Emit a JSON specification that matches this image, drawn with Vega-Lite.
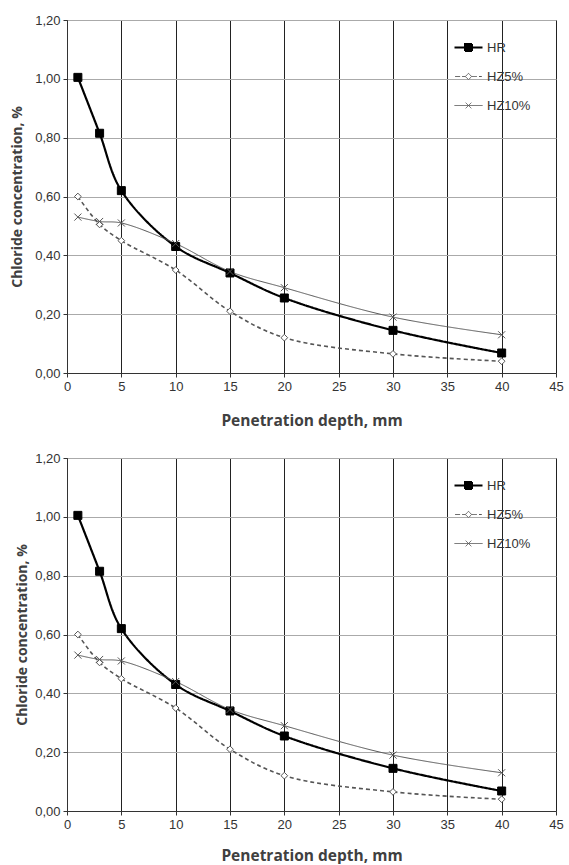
{
  "$schema": "https://vega.github.io/schema/vega-lite/v6.json",
  "padding": {"left": 10, "top": 13, "right": 0, "bottom": 0},
  "background": "white",
  "spacing": 22,
  "align": "none",
  "resolve": {"scale": {"stroke": "independent"}, "legend": {"stroke": "independent"}},
  "data": {"values": [
    {"depth": 1, "conc": 1.005, "series": "HR"},
    {"depth": 3, "conc": 0.815, "series": "HR"},
    {"depth": 5, "conc": 0.62, "series": "HR"},
    {"depth": 10, "conc": 0.43, "series": "HR"},
    {"depth": 15, "conc": 0.34, "series": "HR"},
    {"depth": 20, "conc": 0.255, "series": "HR"},
    {"depth": 30, "conc": 0.145, "series": "HR"},
    {"depth": 40, "conc": 0.068, "series": "HR"},
    {"depth": 1, "conc": 0.60, "series": "HZ5%"},
    {"depth": 3, "conc": 0.505, "series": "HZ5%"},
    {"depth": 5, "conc": 0.45, "series": "HZ5%"},
    {"depth": 10, "conc": 0.35, "series": "HZ5%"},
    {"depth": 15, "conc": 0.21, "series": "HZ5%"},
    {"depth": 20, "conc": 0.12, "series": "HZ5%"},
    {"depth": 30, "conc": 0.065, "series": "HZ5%"},
    {"depth": 40, "conc": 0.04, "series": "HZ5%"},
    {"depth": 1, "conc": 0.53, "series": "HZ10%"},
    {"depth": 3, "conc": 0.515, "series": "HZ10%"},
    {"depth": 5, "conc": 0.51, "series": "HZ10%"},
    {"depth": 10, "conc": 0.44, "series": "HZ10%"},
    {"depth": 15, "conc": 0.345, "series": "HZ10%"},
    {"depth": 20, "conc": 0.29, "series": "HZ10%"},
    {"depth": 30, "conc": 0.19, "series": "HZ10%"},
    {"depth": 40, "conc": 0.13, "series": "HZ10%"}
  ]},
  "config": {
    "view": {"stroke": "#555", "strokeWidth": 1},
    "axis": {
      "labelFont": "Liberation Sans Narrow, Liberation Sans, Arial",
      "labelFontSize": 13,
      "labelColor": "#333",
      "titleFont": "Open Sans",
      "titleFontWeight": "bold",
      "titleColor": "#404040",
      "domainColor": "#333",
      "tickColor": "#333",
      "tickSize": 4
    },
    "legend": {
      "labelFont": "Liberation Sans Narrow, Liberation Sans, Arial",
      "labelFontSize": 13,
      "labelColor": "#333"
    }
  },
  "vconcat": [
    {
      "width": 489,
      "height": 353,
      "encoding": {
        "x": {"field": "depth", "type": "quantitative",
          "scale": {"domain": [0, 45], "nice": false},
          "axis": {"values": [0,5,10,15,20,25,30,35,40,45], "gridColor": "#222", "gridOpacity": 1,
            "labelPadding": 3, "titlePadding": 20, "titleFontSize": 15.5, "title": "Penetration depth, mm", "labelFlush": false}},
        "y": {"field": "conc", "type": "quantitative",
          "scale": {"domain": [0, 1.2], "nice": false},
          "axis": {"values": [0,0.2,0.4,0.6,0.8,1.0,1.2], "gridColor": "#aaa", "gridOpacity": 1,
            "labelExpr": "replace(format(datum.value, '.2f'), '.', ',')",
            "labelPadding": 3, "titlePadding": 10, "titleFontSize": 14, "title": "Chloride concentration, %"}}
      },
      "layer": [
        {
          "mark": {"type": "line", "interpolate": "catmull-rom"},
          "encoding": {
            "stroke": {"field": "series", "type": "nominal", "scale": {"domain": ["HR","HZ5%","HZ10%"], "range": ["#000","#555","#555"]},
              "legend": {"title": null, "orient": "none", "legendX": 395, "legendY": 21, "symbolSize": 196, "rowPadding": 15, "labelOffset": 12,
                "encode": {"symbols": {"update": {
                  "shape": {"signal": "datum.value === 'HR' ? 'M-2,0H2M-0.5,-0.5H0.5V0.5H-0.5Z' : datum.value === 'HZ5%' ? 'M-1.9,0H-1.2M-0.9,0H-0.45M-0.45,0L0,-0.45L0.45,0L0,0.45ZM0.45,0H1.2M1.5,0H1.9' : 'M-2,0H2M-0.4,-0.4L0.4,0.4M-0.4,0.4L0.4,-0.4'"},
                  "fill": {"signal": "datum.value === 'HR' ? '#000' : datum.value === 'HZ5%' ? '#fff' : 'transparent'"},
                  "stroke": {"signal": "datum.value === 'HR' ? '#000' : '#555'"},
                  "strokeWidth": {"signal": "datum.value === 'HR' ? 2 : 1"},
                  "strokeDash": {"value": [1, 0]},
                  "opacity": {"value": 1}
                }}}}},
            "strokeDash": {"field": "series", "type": "nominal", "scale": {"domain": ["HR","HZ5%","HZ10%"], "range": [[1,0],[4,3],[1,0]]}, "legend": null},
            "strokeWidth": {"field": "series", "type": "nominal", "scale": {"domain": ["HR","HZ5%","HZ10%"], "range": [2.2,1,1.1]}, "legend": null}
          }
        },
        {
          "mark": {"type": "point", "filled": false, "strokeWidth": 1, "opacity": 1},
          "encoding": {
            "stroke": {"condition": {"test": "datum.series === 'HR'", "value": "#000"}, "value": "#555"},
            "fill": {"condition": [{"test": "datum.series === 'HR'", "value": "#000"}, {"test": "datum.series === 'HZ5%'", "value": "#fff"}], "value": "transparent"},
            "size": {"condition": [{"test": "datum.series === 'HR'", "value": 64}, {"test": "datum.series === 'HZ5%'", "value": 45}], "value": 50},
            "shape": {"condition": [{"test": "datum.series === 'HR'", "value": "square"}, {"test": "datum.series === 'HZ5%'", "value": "diamond"}], "value": "M-1,-1L1,1M-1,1L1,-1"}
          }
        }
      ]
    },
    {
      "width": 489,
      "height": 353,
      "encoding": {
        "x": {"field": "depth", "type": "quantitative",
          "scale": {"domain": [0, 45], "nice": false},
          "axis": {"values": [0,5,10,15,20,25,30,35,40,45], "gridColor": "#222", "gridOpacity": 1,
            "labelPadding": 3, "titlePadding": 17, "titleFontSize": 15.5, "title": "Penetration depth, mm", "labelFlush": false}},
        "y": {"field": "conc", "type": "quantitative",
          "scale": {"domain": [0, 1.2], "nice": false},
          "axis": {"values": [0,0.2,0.4,0.6,0.8,1.0,1.2], "gridColor": "#aaa", "gridOpacity": 1,
            "labelExpr": "replace(format(datum.value, '.2f'), '.', ',')",
            "labelPadding": 3, "titlePadding": 5, "titleFontSize": 14, "title": "Chloride concentration, %"}}
      },
      "layer": [
        {
          "mark": {"type": "line", "interpolate": "catmull-rom"},
          "encoding": {
            "stroke": {"field": "series", "type": "nominal", "scale": {"domain": ["HR","HZ5%","HZ10%"], "range": ["#000","#555","#555"]},
              "legend": {"title": null, "orient": "none", "legendX": 395, "legendY": 21, "symbolSize": 196, "rowPadding": 15, "labelOffset": 12,
                "encode": {"symbols": {"update": {
                  "shape": {"signal": "datum.value === 'HR' ? 'M-2,0H2M-0.5,-0.5H0.5V0.5H-0.5Z' : datum.value === 'HZ5%' ? 'M-1.9,0H-1.2M-0.9,0H-0.45M-0.45,0L0,-0.45L0.45,0L0,0.45ZM0.45,0H1.2M1.5,0H1.9' : 'M-2,0H2M-0.4,-0.4L0.4,0.4M-0.4,0.4L0.4,-0.4'"},
                  "fill": {"signal": "datum.value === 'HR' ? '#000' : datum.value === 'HZ5%' ? '#fff' : 'transparent'"},
                  "stroke": {"signal": "datum.value === 'HR' ? '#000' : '#555'"},
                  "strokeWidth": {"signal": "datum.value === 'HR' ? 2 : 1"},
                  "strokeDash": {"value": [1, 0]},
                  "opacity": {"value": 1}
                }}}}},
            "strokeDash": {"field": "series", "type": "nominal", "scale": {"domain": ["HR","HZ5%","HZ10%"], "range": [[1,0],[4,3],[1,0]]}, "legend": null},
            "strokeWidth": {"field": "series", "type": "nominal", "scale": {"domain": ["HR","HZ5%","HZ10%"], "range": [2.2,1,1.1]}, "legend": null}
          }
        },
        {
          "mark": {"type": "point", "filled": false, "strokeWidth": 1, "opacity": 1},
          "encoding": {
            "stroke": {"condition": {"test": "datum.series === 'HR'", "value": "#000"}, "value": "#555"},
            "fill": {"condition": [{"test": "datum.series === 'HR'", "value": "#000"}, {"test": "datum.series === 'HZ5%'", "value": "#fff"}], "value": "transparent"},
            "size": {"condition": [{"test": "datum.series === 'HR'", "value": 64}, {"test": "datum.series === 'HZ5%'", "value": 45}], "value": 50},
            "shape": {"condition": [{"test": "datum.series === 'HR'", "value": "square"}, {"test": "datum.series === 'HZ5%'", "value": "diamond"}], "value": "M-1,-1L1,1M-1,1L1,-1"}
          }
        }
      ]
    }
  ]
}
